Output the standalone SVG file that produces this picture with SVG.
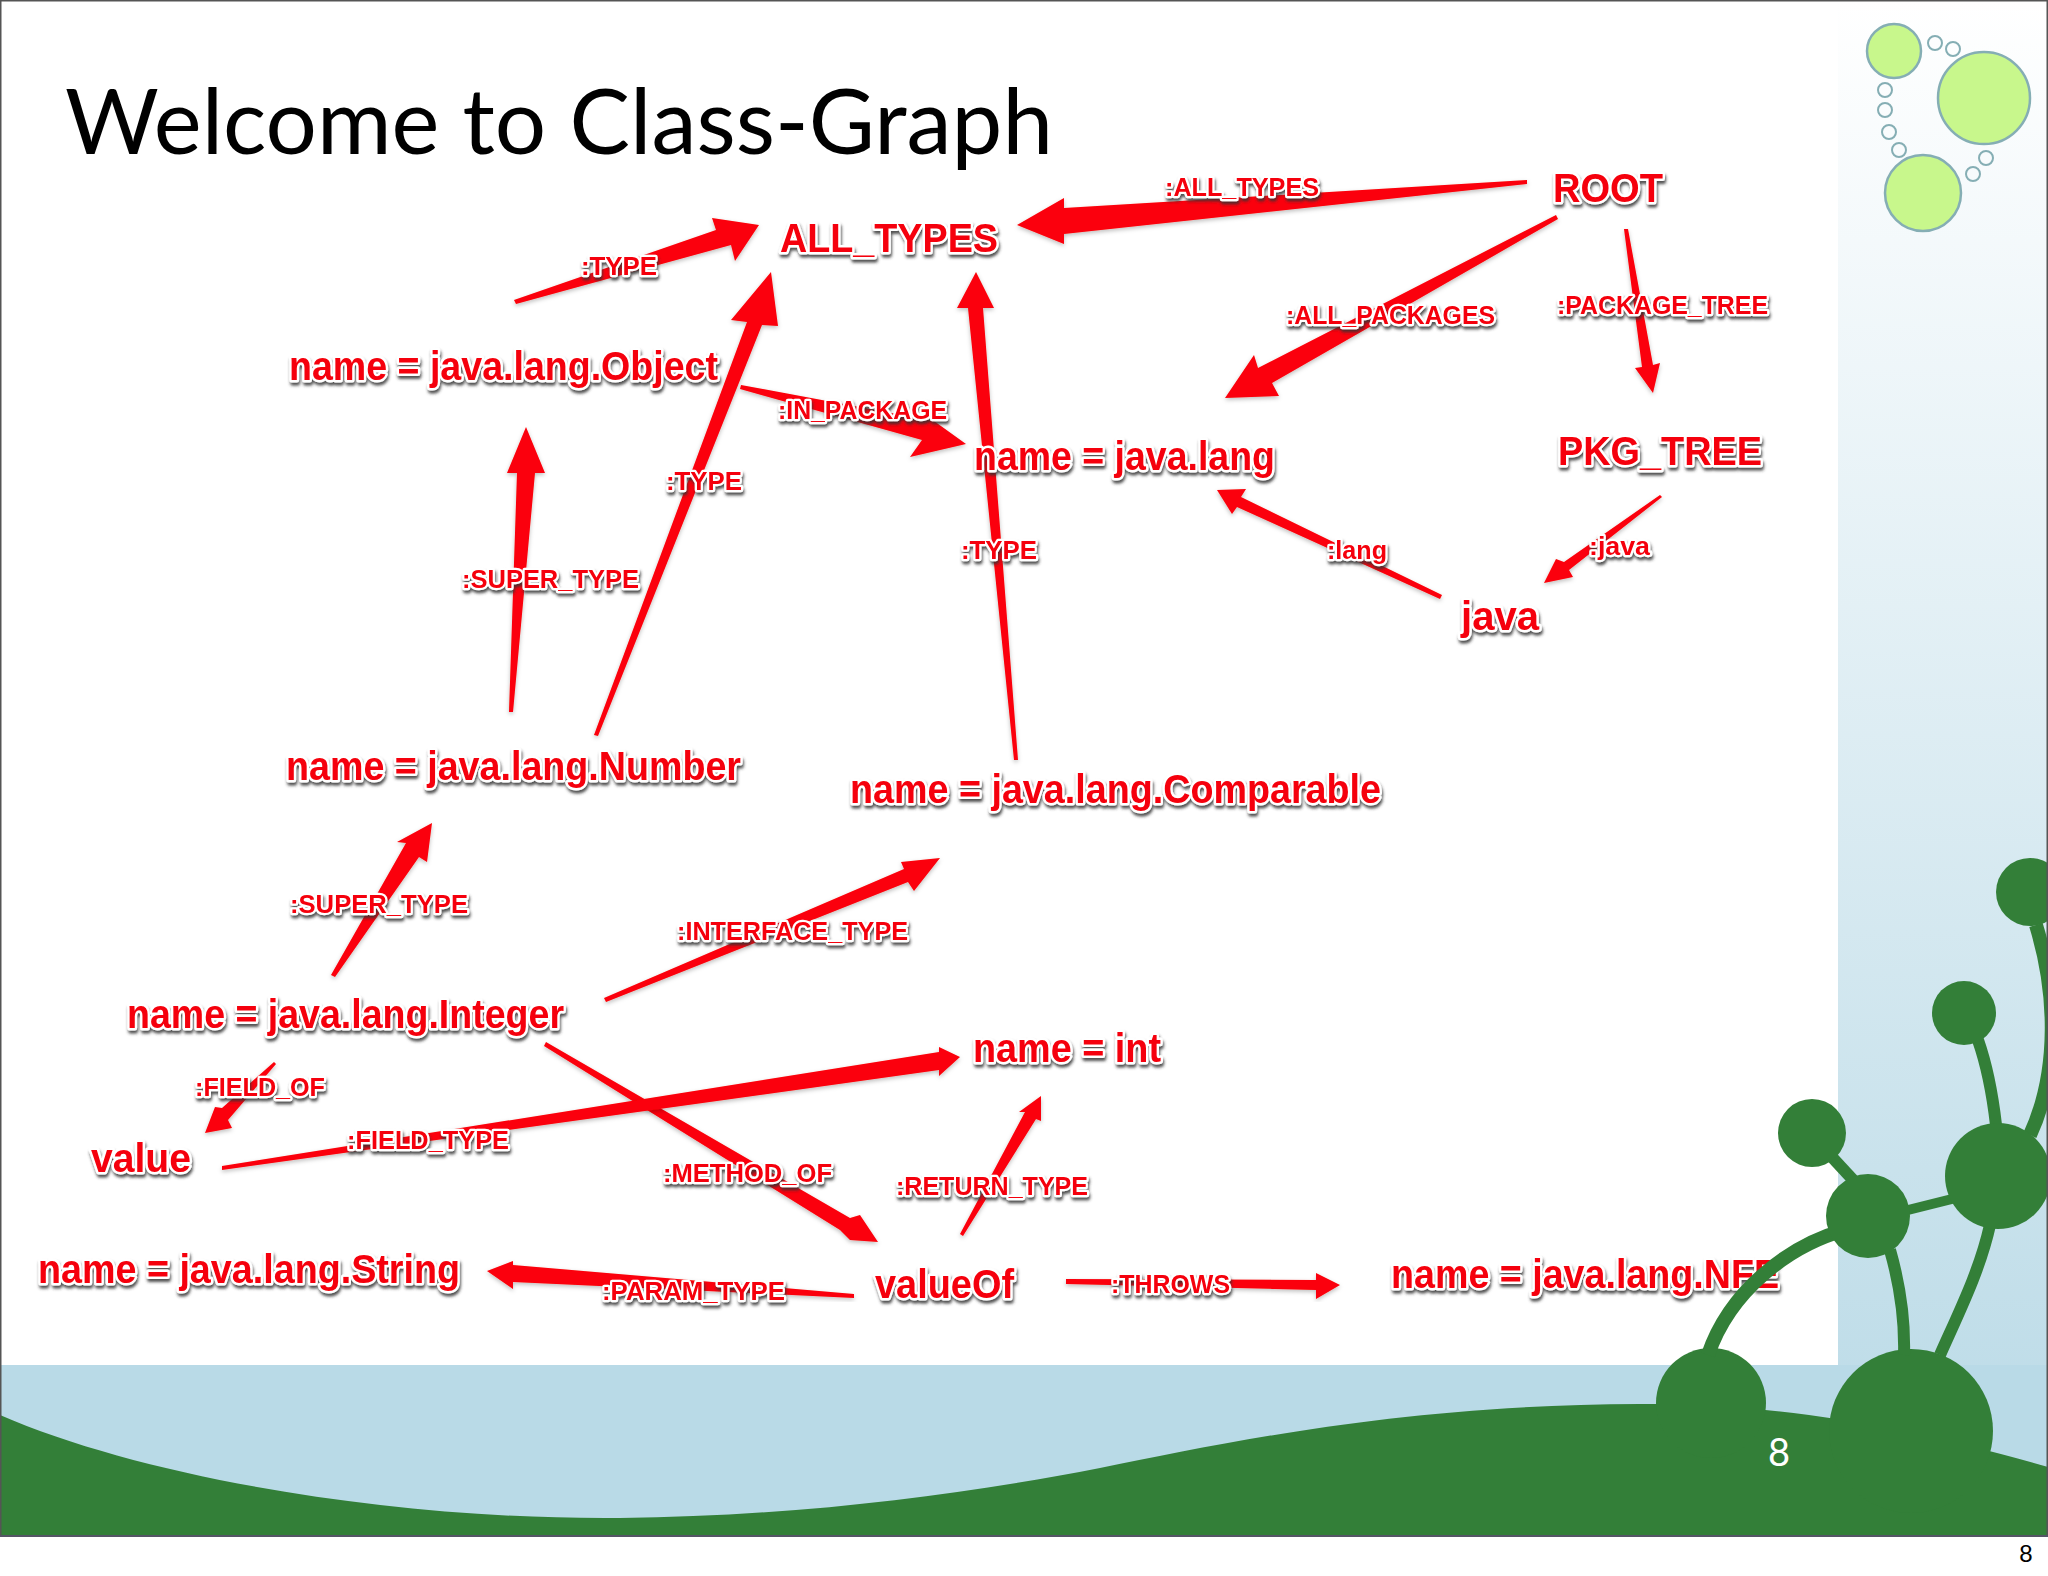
<svg xmlns="http://www.w3.org/2000/svg" width="2048" height="1576" viewBox="0 0 2048 1576">
<defs>
<linearGradient id="sky" x1="0" y1="0" x2="0" y2="1"><stop offset="0" stop-color="#ffffff"/><stop offset="1" stop-color="#b8d9e6"/></linearGradient>
<filter id="sh" x="-10%" y="-30%" width="120%" height="170%"><feDropShadow dx="1" dy="3" stdDeviation="1.5" flood-color="#333" flood-opacity="0.85"/></filter>
<filter id="ash" x="-10%" y="-10%" width="120%" height="120%"><feDropShadow dx="0" dy="2" stdDeviation="2" flood-color="#000" flood-opacity="0.25"/></filter>
</defs>
<style>
.n{font-family:"Liberation Sans",Arial,sans-serif;font-weight:700;font-size:40px;fill:#f5000a;stroke:#fff;stroke-width:5px;paint-order:stroke;stroke-linejoin:round;filter:url(#sh)}
.e{font-family:"Liberation Sans",Arial,sans-serif;font-weight:700;font-size:26px;fill:#f5000a;stroke:#fff;stroke-width:4.5px;paint-order:stroke;stroke-linejoin:round;filter:url(#sh)}
.a{fill:#fb0008;filter:url(#ash)}
.big{fill:#c8f78c;stroke:#85aeb4;stroke-width:2.5}
.sm{fill:none;stroke:#85aeb4;stroke-width:2}
.g{fill:#337f38}
.st{fill:none;stroke:#337f38}
</style>
<rect width="2048" height="1576" fill="#fff"/>
<rect x="0" y="0" width="2048" height="1536" fill="url(#sky)"/>
<rect x="0" y="1365" width="2048" height="171" fill="#b9dae7"/>
<rect x="0" y="0" width="1838" height="1365" fill="#fff"/>
<g id="bubbles">
<circle class="big" cx="1894" cy="51" r="27"/><circle class="big" cx="1984" cy="98" r="46"/><circle class="big" cx="1923" cy="193" r="38"/>
<circle class="sm" cx="1935" cy="43" r="7"/><circle class="sm" cx="1953" cy="49" r="7"/><circle class="sm" cx="1885" cy="90" r="7"/><circle class="sm" cx="1885" cy="110" r="7"/><circle class="sm" cx="1889" cy="132" r="7"/><circle class="sm" cx="1899" cy="150" r="7"/><circle class="sm" cx="1986" cy="158" r="7"/><circle class="sm" cx="1973" cy="174" r="7"/>
</g>
<text x="65" y="154" font-family="Lato,'Open Sans',sans-serif" font-size="92" fill="#000" textLength="988" lengthAdjust="spacingAndGlyphs">Welcome to Class-Graph</text>
<g id="connectors">
<polygon class="a" points="514,300 716,230 712,218 759,225 735,261 731,245 516,304"/>
<polygon class="a" points="594,735 747,322 731,320 771,272 778,326 762,325 598,736"/>
<polygon class="a" points="1014,760 968,308 957,308 976,272 994,308 983,308 1018,760"/>
<polygon class="a" points="1527,180 1064,208 1064,198 1017,225 1064,244 1064,234 1527,184"/>
<polygon class="a" points="1556,215 1258,368 1254,355 1225,398 1279,396 1272,383 1558,219"/>
<polygon class="a" points="1624,229 1642,367 1635,368 1653,393 1660,363 1653,365 1628,229"/>
<polygon class="a" points="1660,495 1564,562 1556,559 1544,583 1573,577 1569,570 1662,497"/>
<polygon class="a" points="1442,595 1241,497 1246,489 1217,490 1232,514 1237,507 1440,599"/>
<polygon class="a" points="741,385 934,421 966,444 910,457 922,440 740,389"/>
<polygon class="a" points="509,712 517,473 507,473 526,427 545,473 535,473 513,712"/>
<polygon class="a" points="331,975 406,843 397,842 432,823 427,862 419,857 335,977"/>
<polygon class="a" points="604,998 904,869 901,862 940,858 914,891 908,882 606,1002"/>
<polygon class="a" points="546,1042 850,1218 860,1215 878,1242 850,1240 840,1230 544,1046"/>
<polygon class="a" points="274,1062 222,1108 215,1107 205,1133 232,1128 228,1120 276,1064"/>
<polygon class="a" points="222,1166 939,1052 939,1047 960,1057 939,1076 939,1070 222,1170"/>
<polygon class="a" points="854,1294 513,1265 513,1261 487,1271 513,1289 513,1282 854,1298"/>
<polygon class="a" points="1066,1279 1316,1280 1316,1273 1340,1285 1316,1299 1316,1290 1066,1284"/>
<polygon class="a" points="960,1234 1025,1112 1019,1112 1041,1096 1041,1121 1036,1119 963,1236"/>
<g id="edge-labels">
<text class="e" x="1165" y="196" textLength="154" lengthAdjust="spacingAndGlyphs">:ALL_TYPES</text>
<text class="e" x="581" y="275" textLength="76" lengthAdjust="spacingAndGlyphs">:TYPE</text>
<text class="e" x="1286" y="324" textLength="209" lengthAdjust="spacingAndGlyphs">:ALL_PACKAGES</text>
<text class="e" x="1557" y="314" textLength="211" lengthAdjust="spacingAndGlyphs">:PACKAGE_TREE</text>
<text class="e" x="778" y="419" textLength="169" lengthAdjust="spacingAndGlyphs">:IN_PACKAGE</text>
<text class="e" x="666" y="490" textLength="76" lengthAdjust="spacingAndGlyphs">:TYPE</text>
<text class="e" x="961" y="559" textLength="76" lengthAdjust="spacingAndGlyphs">:TYPE</text>
<text class="e" x="1327" y="559" textLength="60" lengthAdjust="spacingAndGlyphs">:lang</text>
<text class="e" x="1589" y="555" textLength="61" lengthAdjust="spacingAndGlyphs">:java</text>
<text class="e" x="462" y="588" textLength="177" lengthAdjust="spacingAndGlyphs">:SUPER_TYPE</text>
<text class="e" x="290" y="913" textLength="178" lengthAdjust="spacingAndGlyphs">:SUPER_TYPE</text>
<text class="e" x="677" y="940" textLength="231" lengthAdjust="spacingAndGlyphs">:INTERFACE_TYPE</text>
<text class="e" x="195" y="1096" textLength="130" lengthAdjust="spacingAndGlyphs">:FIELD_OF</text>
<text class="e" x="347" y="1149" textLength="162" lengthAdjust="spacingAndGlyphs">:FIELD_TYPE</text>
<text class="e" x="663" y="1182" textLength="169" lengthAdjust="spacingAndGlyphs">:METHOD_OF</text>
<text class="e" x="896" y="1195" textLength="192" lengthAdjust="spacingAndGlyphs">:RETURN_TYPE</text>
<text class="e" x="602" y="1300" textLength="183" lengthAdjust="spacingAndGlyphs">:PARAM_TYPE</text>
<text class="e" x="1111" y="1293" textLength="119" lengthAdjust="spacingAndGlyphs">:THROWS</text>
</g>
</g>
<g id="node-all-types"><text class="n" x="780" y="252" textLength="218" lengthAdjust="spacingAndGlyphs">ALL_TYPES</text></g>
<g id="node-root"><text class="n" x="1553" y="202" textLength="110" lengthAdjust="spacingAndGlyphs">ROOT</text></g>
<g id="node-object"><text class="n" x="289" y="380" textLength="429" lengthAdjust="spacingAndGlyphs">name = java.lang.Object</text></g>
<g id="node-pkg-tree"><text class="n" x="1558" y="465" textLength="204" lengthAdjust="spacingAndGlyphs">PKG_TREE</text></g>
<g id="node-java-lang"><text class="n" x="974" y="470" textLength="301" lengthAdjust="spacingAndGlyphs">name = java.lang</text></g>
<g id="node-java"><text class="n" x="1461" y="630" textLength="78" lengthAdjust="spacingAndGlyphs">java</text></g>
<g id="node-number"><text class="n" x="286" y="780" textLength="455" lengthAdjust="spacingAndGlyphs">name = java.lang.Number</text></g>
<g id="node-comparable"><text class="n" x="850" y="803" textLength="531" lengthAdjust="spacingAndGlyphs">name = java.lang.Comparable</text></g>
<g id="node-integer"><text class="n" x="127" y="1028" textLength="437" lengthAdjust="spacingAndGlyphs">name = java.lang.Integer</text></g>
<g id="node-int"><text class="n" x="973" y="1062" textLength="188" lengthAdjust="spacingAndGlyphs">name = int</text></g>
<g id="node-value"><text class="n" x="91" y="1172" textLength="100" lengthAdjust="spacingAndGlyphs">value</text></g>
<g id="node-string"><text class="n" x="38" y="1283" textLength="422" lengthAdjust="spacingAndGlyphs">name = java.lang.String</text></g>
<g id="node-valueof"><text class="n" x="875" y="1298" textLength="139" lengthAdjust="spacingAndGlyphs">valueOf</text></g>
<g id="node-nfe"><text class="n" x="1391" y="1288" textLength="388" lengthAdjust="spacingAndGlyphs">name = java.lang.NFE</text></g>
<g id="plant">
<path class="g" d="M0 1415C150 1480 400 1520 620 1518C800 1516 960 1495 1100 1468C1230 1442 1400 1405 1640 1404C1780 1404 1900 1425 2048 1467V1536H0Z"/>
<circle class="g" cx="1711" cy="1403" r="55"/><circle class="g" cx="1911" cy="1431" r="82"/>
<path class="st" stroke-width="14" d="M1708 1355C1730 1290 1790 1245 1845 1230"/>
<path class="st" stroke-width="10" d="M1900 1212L1960 1197"/>
<path class="st" stroke-width="12" d="M1830 1155L1855 1182"/>
<path class="st" stroke-width="12" d="M1890 1250C1900 1285 1905 1320 1904 1355"/>
<path class="st" stroke-width="12" d="M1990 1225C1980 1270 1960 1310 1940 1355"/>
<path class="st" stroke-width="12" d="M1996 1125C1992 1090 1985 1060 1978 1040"/>
<path class="st" stroke-width="14" d="M2036 925C2056 990 2060 1070 2030 1135"/>
<circle class="g" cx="2030" cy="892" r="34"/><circle class="g" cx="1964" cy="1013" r="32"/><circle class="g" cx="1812" cy="1133" r="34"/><circle class="g" cx="1868" cy="1216" r="42"/><circle class="g" cx="1998" cy="1176" r="53"/>
</g>
<rect x="0" y="0" width="2048" height="1.5" fill="#555"/>
<rect x="0" y="0" width="1.5" height="1536" fill="#555"/>
<rect x="2046.5" y="0" width="1.5" height="1536" fill="#555"/>
<rect x="0" y="1535" width="2048" height="2" fill="#556"/>
<text x="1779" y="1466" font-family="Lato,sans-serif" font-size="38" fill="#fff" text-anchor="middle">8</text>
<text x="2026" y="1562" font-family="'Liberation Sans',sans-serif" font-size="24" fill="#000" text-anchor="middle">8</text>
</svg>
